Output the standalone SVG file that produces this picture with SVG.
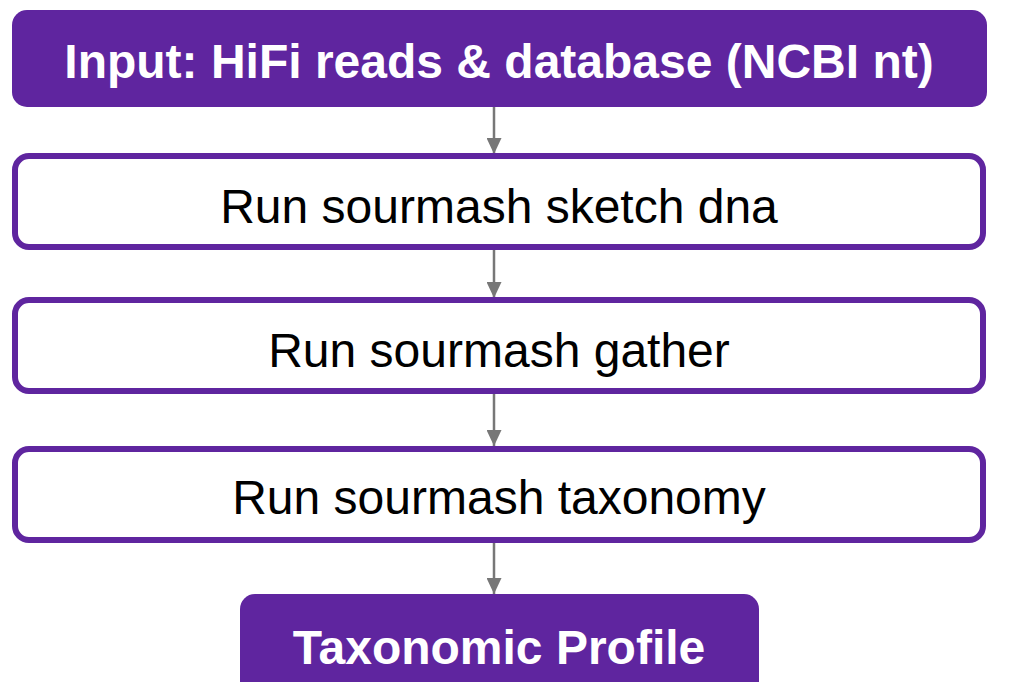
<svg xmlns="http://www.w3.org/2000/svg" width="1013" height="682" viewBox="0 0 1013 682">
<defs>
<style>
.solid{fill:#5f259f;}
.outline{fill:#ffffff;stroke:#5f259f;stroke-width:6;}
.bt{font-family:"Liberation Sans",Arial,sans-serif;font-weight:bold;font-size:48px;fill:#ffffff;text-anchor:middle;}
.rt{font-family:"Liberation Sans",Arial,sans-serif;font-size:48px;fill:#000000;text-anchor:middle;}
.conn{stroke:#777777;stroke-width:2.5;fill:none;}
</style>
<marker id="ah" markerWidth="16" markerHeight="15" refX="16" refY="7.5" orient="auto" markerUnits="userSpaceOnUse">
<path d="M0,0 L16,7.5 L0,15 Z" fill="#777777"/>
</marker>
</defs>
<rect width="1013" height="682" fill="#ffffff"/>
<g id="connectors">
<line class="conn" x1="494" y1="107" x2="494" y2="154" marker-end="url(#ah)"/>
<line class="conn" x1="494" y1="250" x2="494" y2="298" marker-end="url(#ah)"/>
<line class="conn" x1="494" y1="394" x2="494" y2="446" marker-end="url(#ah)"/>
<line class="conn" x1="494" y1="543" x2="494" y2="594" marker-end="url(#ah)"/>
</g>
<g id="input">
<rect class="solid" x="12" y="10" width="975" height="97" rx="15"/>
<text class="bt" x="499" y="78">Input: HiFi reads &amp; database (NCBI nt)</text>
</g>
<g id="sketch">
<rect class="outline" x="15" y="156" width="968" height="91" rx="14"/>
<text class="rt" x="499" y="223">Run sourmash sketch dna</text>
</g>
<g id="gather">
<rect class="outline" x="15" y="300" width="968" height="91" rx="14"/>
<text class="rt" x="499" y="367">Run sourmash gather</text>
</g>
<g id="taxonomy">
<rect class="outline" x="15" y="449" width="968" height="91" rx="14"/>
<text class="rt" x="499" y="514">Run sourmash taxonomy</text>
</g>
<g id="profile">
<rect class="solid" x="240" y="594" width="519" height="110" rx="15"/>
<text class="bt" x="499" y="664">Taxonomic Profile</text>
</g>
</svg>
